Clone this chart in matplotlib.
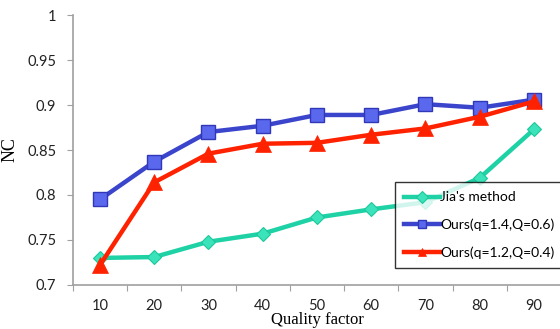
import matplotlib
matplotlib.use("Agg")
import matplotlib.pyplot as plt
import numpy as np

categories = [10, 20, 30, 40, 50, 60, 70, 80, 90]
jia = [0.730, 0.731, 0.748, 0.757, 0.775, 0.784, 0.792, 0.819, 0.873]
ours_14 = [0.795, 0.837, 0.870, 0.877, 0.889, 0.889, 0.901, 0.897, 0.906]
ours_12 = [0.722, 0.814, 0.846, 0.857, 0.858, 0.867, 0.874, 0.887, 0.904]
labels = ["Jia's method", "Ours(q=1.4,Q=0.6)", "Ours(q=1.2,Q=0.4)"]

plt.rcParams['font.family'] = ['Lato', 'DejaVu Sans']

fig = plt.figure(figsize=(5.6, 3.29), dpi=100)
ax = fig.add_axes([0.130, 0.134, 0.872, 0.820])
x = np.arange(len(categories))

ax.plot(x, jia, color='#1ED2A6', lw=3.2, marker='D', ms=7.5, mfc='#3BE3BA',
        mec='#1CC79C', mew=0.8, label=labels[0], zorder=3)
ax.plot(x, ours_14, color='#3B45CC', lw=3.2, marker='s', ms=10, mfc='#5A68EE',
        mec='#3038B8', mew=1.0, label=labels[1], zorder=4)
ax.plot(x, ours_12, color='#FF2200', lw=3.2, marker='^', ms=11, mfc='#FF2200',
        mec='#FF2200', mew=0.5, label=labels[2], zorder=5)

ax.set_xlim(-0.5, len(categories) - 0.5)
ax.set_ylim(0.7, 1.0)
ax.set_yticks([0.7, 0.75, 0.8, 0.85, 0.9, 0.95, 1.0])
ax.set_yticklabels(['0.7', '0.75', '0.8', '0.85', '0.9', '0.95', '1'])
ax.set_xticks(np.arange(-0.5, len(categories), 1.0))
ax.set_xticklabels([])
ax.set_xticks(x, minor=True)
ax.set_xticklabels([str(c) for c in categories], minor=True)
ax.tick_params(axis='x', which='minor', length=0, pad=10)
ax.tick_params(axis='both', which='major', length=4, color='#A0A0A0', direction='out')
ax.tick_params(axis='both', which='both', labelsize=10.5, labelcolor='#222222')
ax.tick_params(axis='y', pad=8)

for s in ['top', 'right']:
    ax.spines[s].set_visible(False)
for s in ['left', 'bottom']:
    ax.spines[s].set_color('#A0A0A0')
    ax.spines[s].set_linewidth(1.2)

ax.set_ylabel('NC', family='Liberation Serif', fontsize=13, labelpad=6)
ax.set_xlabel('Quality factor', family='Liberation Serif', fontsize=12)
ax.xaxis.set_label_coords(0.5, -0.100)

leg = ax.legend(loc='upper left', bbox_to_anchor=(0.66, 0.38), frameon=True,
                fancybox=False, edgecolor='black', fontsize=10, borderpad=0.65,
                labelspacing=1.1, handlelength=2.6, handletextpad=0.0,
                borderaxespad=0)
leg.get_frame().set_linewidth(1.0)
for h in leg.legend_handles:
    h.set_markersize(6)

fig.savefig('out.png', dpi=100)
